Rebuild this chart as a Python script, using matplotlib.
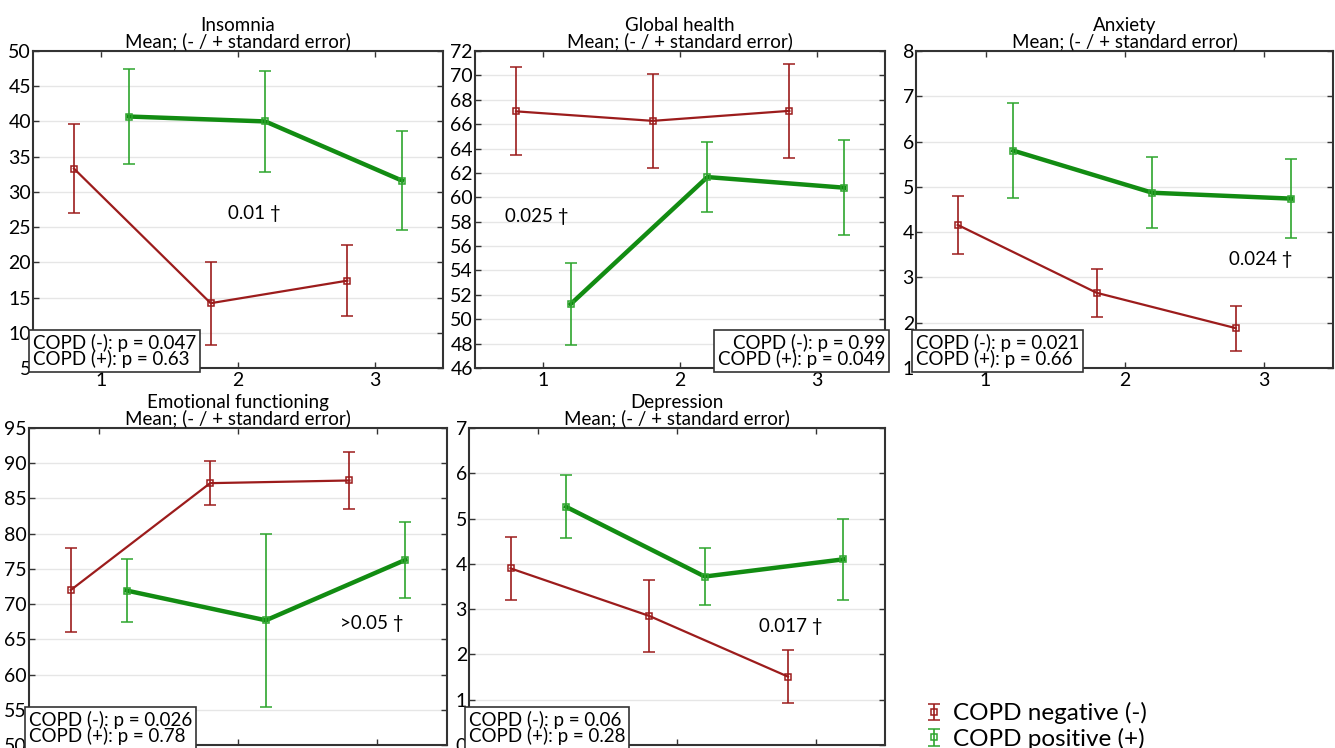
import numpy as np
import matplotlib
matplotlib.use("Agg")
import matplotlib.pyplot as plt
from matplotlib.container import ErrorbarContainer
from matplotlib.legend_handler import HandlerErrorbar

plt.rcParams['font.family'] = ['Lato', 'DejaVu Sans']

# group positions (x ticks) and offsets for the two series
groups = [1, 2, 3]

# Insomnia
ins_neg = [33.3, 14.2, 17.4]
ins_neg_se = [6.3, 5.9, 5.0]
ins_pos = [40.7, 40.0, 31.6]
ins_pos_se = [6.7, 7.2, 7.0]

# Global health
gh_neg = [67.05, 66.27, 67.09]
gh_neg_se = [3.6, 3.85, 3.85]
gh_pos = [51.24, 61.66, 60.79]
gh_pos_se = [3.35, 2.9, 3.9]

# Anxiety
anx_neg = [4.16, 2.66, 1.88]
anx_neg_se = [0.64, 0.53, 0.50]
anx_pos = [5.80, 4.87, 4.74]
anx_pos_se = [1.05, 0.78, 0.88]

# Emotional functioning
emo_neg = [72.0, 87.17, 87.55]
emo_neg_se = [5.9, 3.1, 4.0]
emo_pos = [71.93, 67.7, 76.27]
emo_pos_se = [4.5, 12.3, 5.4]

# Depression
dep_neg = [3.90, 2.85, 1.51]
dep_neg_se = [0.69, 0.79, 0.59]
dep_pos = [5.26, 3.72, 4.10]
dep_pos_se = [0.70, 0.63, 0.90]

RED = '#9c1c1c'
GREEN_BAR = '#2ea52e'
GREEN_LINE = '#128c12'

W, H = 1335, 748
fig = plt.figure(figsize=(W / 100, H / 100), dpi=100)

def px_axes(l, t, r, b):
    return fig.add_axes([l / W, 1 - b / H, (r - l) / W, (b - t) / H])

panels = [
    dict(rect=(33, 51, 443, 368), title='Insomnia', neg=ins_neg, neg_se=ins_neg_se,
         pos=ins_pos, pos_se=ins_pos_se, ylim=(5, 50), step=5,
         note='0.01 †', note_xy=(1.93, 27.0),
         pbox='COPD (-): p = 0.047\nCOPD (+): p = 0.63', pbox_loc='left', bottom=False),
    dict(rect=(475, 51, 885, 368), title='Global health', neg=gh_neg, neg_se=gh_neg_se,
         pos=gh_pos, pos_se=gh_pos_se, ylim=(46, 72), step=2,
         note='0.025 †', note_xy=(0.72, 58.4),
         pbox='COPD (-): p = 0.99\nCOPD (+): p = 0.049', pbox_loc='right', bottom=False),
    dict(rect=(916, 51, 1333, 368), title='Anxiety', neg=anx_neg, neg_se=anx_neg_se,
         pos=anx_pos, pos_se=anx_pos_se, ylim=(1, 8), step=1,
         note='0.024 †', note_xy=(2.75, 3.39),
         pbox='COPD (-): p = 0.021\nCOPD (+): p = 0.66', pbox_loc='left', bottom=False),
    dict(rect=(29, 428, 447, 745), title='Emotional functioning', neg=emo_neg, neg_se=emo_neg_se,
         pos=emo_pos, pos_se=emo_pos_se, ylim=(50, 95), step=5,
         note='>0.05 †', note_xy=(2.73, 67.2),
         pbox='COPD (-): p = 0.026\nCOPD (+): p = 0.78', pbox_loc='left', bottom=True),
    dict(rect=(469, 428, 885, 745), title='Depression', neg=dep_neg, neg_se=dep_neg_se,
         pos=dep_pos, pos_se=dep_pos_se, ylim=(0, 7), step=1,
         note='0.017 †', note_xy=(2.59, 2.62),
         pbox='COPD (-): p = 0.06\nCOPD (+): p = 0.28', pbox_loc='left', bottom=True),
]

handles = None
x = np.array(groups, dtype=float)
for p in panels:
    ax = px_axes(*p['rect'])
    ax.set_xlim(0.5, 3.5)
    ax.set_ylim(*p['ylim'])
    ax.set_yticks(np.arange(p['ylim'][0], p['ylim'][1] + 0.001, p['step']))
    ax.set_xticks(groups)
    ax.grid(axis='y', color='#e6e6e6', lw=1)
    ax.set_axisbelow(True)
    ax.tick_params(direction='in', length=4, width=1, top=True, right=True,
                   labelsize=14, pad=1.5, color='#333333')
    ax.tick_params(axis='x', pad=3)
    if p['bottom']:
        # bottom row: x labels fall outside the picture
        ax.tick_params(axis='x', labelbottom=False)
    for s in ax.spines.values():
        s.set_color('#333333')
        s.set_linewidth(1.5)

    # lines
    ax.plot(x - 0.2, p['neg'], color=RED, lw=1.6, zorder=3)
    ax.plot(x + 0.2, p['pos'], color=GREEN_LINE, lw=3.2, zorder=3)
    # error bars with open squares
    e1 = ax.errorbar(x - 0.2, p['neg'], yerr=p['neg_se'], fmt='s', color=RED,
                     mfc='none', ms=5, mew=1.1, elinewidth=1.2, capsize=4.5,
                     capthick=1.2, zorder=4)
    e2 = ax.errorbar(x + 0.2, p['pos'], yerr=p['pos_se'], fmt='s', color=GREEN_BAR,
                     mfc='none', ms=5, mew=1.1, elinewidth=1.2, capsize=4.5,
                     capthick=1.2, zorder=4)
    if handles is None:
        handles = [e1, e2]

    ax.set_title(p['title'] + '\nMean; (- / + standard error)', fontsize=13.5,
                 linespacing=0.85, pad=3)
    ax.text(*p['note_xy'], p['note'], fontsize=13.5, va='center', ha='left', zorder=5)

    if p['pbox_loc'] == 'left':
        bx, ha = 0.0, 'left'
    else:
        bx, ha = 1.0, 'right'
    ax.text(bx, 0.0, p['pbox'], transform=ax.transAxes, ha=ha, va='bottom',
            fontsize=13.5, linespacing=0.85, zorder=6,
            bbox=dict(boxstyle='square,pad=0.2', fc='white', ec='#333333', lw=1.2))

fig.legend(handles, ['COPD negative (-)', 'COPD positive (+)'],
           loc='upper left', bbox_to_anchor=(912 / W, 1 - 690 / H),
           frameon=False, fontsize=17.5, handlelength=0.8, handletextpad=0.4,
           labelspacing=0.15, borderpad=0,
           handler_map={ErrorbarContainer: HandlerErrorbar(yerr_size=0.33)})

fig.savefig('out.png', dpi=100)
